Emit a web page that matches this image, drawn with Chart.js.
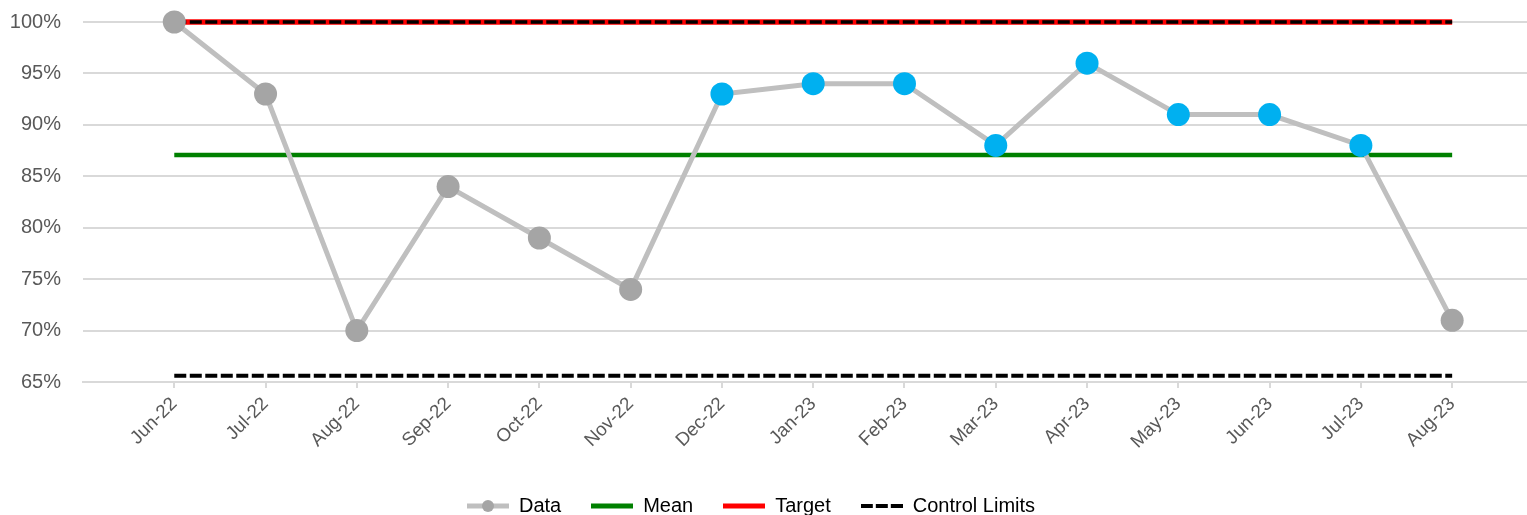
<!DOCTYPE html>
<html>
<head>
<meta charset="utf-8">
<script src="https://cdn.jsdelivr.net/npm/chart.js@4/dist/chart.umd.min.js"></script>
<style>
  html, body { margin: 0; padding: 0; background: #ffffff; }
  #wrap { width: 1527px; height: 515px; position: relative; }
</style>
</head>
<body>
<div id="wrap"><canvas id="chart"></canvas></div>
<script>
// Monthly percentages
const months = ['Jun-22', 'Jul-22', 'Aug-22', 'Sep-22', 'Oct-22', 'Nov-22', 'Dec-22', 'Jan-23',
                'Feb-23', 'Mar-23', 'Apr-23', 'May-23', 'Jun-23', 'Jul-23', 'Aug-23'];
const values = [100, 93, 70, 84, 79, 74, 93, 94, 94, 88, 96, 91, 91, 88, 71];
// Points flagged as a sustained shift above the mean
const shiftFlags = [false, false, false, false, false, false, true, true, true, true, true, true, true, true, false];

const meanValue = 87.07;
const targetValue = 100;
const upperLimit = 100;
const lowerLimit = 65.6;

const yTicks = [65, 70, 75, 80, 85, 90, 95, 100];

const GREY_LINE = '#BFBFBF';
const GREY_POINT = '#A5A5A5';
const BLUE_POINT = '#00B0F0';
const TEXT = '#595959';
const GRID = '#D9D9D9';
const FONT = 'Liberation Sans, Arial, sans-serif';

const PLOT_BOTTOM = 382;   // pixel row of the category axis
const LEGEND_MID = 508;    // pixel row used to place the legend row
const LEGEND_PAD = 30;
const LEGEND_FONT = 20;
const LEGEND_WIDTH = 1502;

const lastIdx = months.length - 1;
const flat = v => [{ x: 0, y: v }, { x: lastIdx, y: v }];

const dataPoints = values.map((v, i) => ({ x: i, y: v }));
const pointColors = shiftFlags.map(f => f ? BLUE_POINT : GREY_POINT);

// Legend swatches drawn on small canvases
const SW_W = 42, SW_H = 16;
function swatch(draw) {
  const c = document.createElement('canvas');
  c.width = SW_W; c.height = SW_H;
  const g = c.getContext('2d');
  draw(g);
  return c;
}
const swData = swatch(g => {
  g.strokeStyle = GREY_LINE; g.lineWidth = 5;
  g.beginPath(); g.moveTo(0, 8); g.lineTo(SW_W, 8); g.stroke();
  g.fillStyle = GREY_POINT; g.beginPath(); g.arc(SW_W / 2, 8, 6, 0, Math.PI * 2); g.fill();
});
const swSolid = col => swatch(g => {
  g.strokeStyle = col; g.lineWidth = 5;
  g.beginPath(); g.moveTo(0, 8); g.lineTo(SW_W, 8); g.stroke();
});
const swDash = swatch(g => {
  g.fillStyle = '#000000';
  [0, 15, 30].forEach(x => g.fillRect(x, 6, 12, 4));
});

const legendItems = [
  { text: 'Data', pointStyle: swData, datasetIndex: 0 },
  { text: 'Mean', pointStyle: swSolid('#008000'), datasetIndex: 1 },
  { text: 'Target', pointStyle: swSolid('#FF0000'), datasetIndex: 4 },
  { text: 'Control Limits', pointStyle: swDash, datasetIndex: 2 }
];

// Legend box: slightly narrower than the canvas, text row pinned near the bottom edge
const legendBox = {
  id: 'legendBox',
  afterLayout(chart) {
    const lg = chart.legend;
    if (!lg) return;
    lg.right = lg.left + LEGEND_WIDTH;
    lg.width = LEGEND_WIDTH;
    const lineH = LEGEND_FONT * 1.2;
    const h = lg.height;
    lg.top = LEGEND_MID - LEGEND_PAD - lineH / 2;
    lg.bottom = lg.top + h;
  }
};

new Chart(document.getElementById('chart'), {
  type: 'line',
  plugins: [legendBox],
  data: {
    datasets: [
      {
        label: 'Data', data: dataPoints, order: 0, clip: false,
        borderColor: GREY_LINE, borderWidth: 5,
        pointBackgroundColor: pointColors, pointBorderColor: pointColors,
        pointRadius: 11.5, pointHoverRadius: 11.5, pointBorderWidth: 0
      },
      {
        label: 'Mean', data: flat(meanValue), order: 1, clip: false,
        borderColor: '#008000', borderWidth: 4.5, pointRadius: 0
      },
      {
        label: 'Control Limits', data: flat(lowerLimit), order: 2, clip: false,
        borderColor: '#000000', borderWidth: 4, borderDash: [12, 3.5], pointRadius: 0
      },
      {
        label: 'Upper Control Limit', data: flat(upperLimit), order: 2, clip: false,
        borderColor: '#000000', borderWidth: 3.5, borderDash: [12, 3.5], pointRadius: 0
      },
      {
        label: 'Target', data: flat(targetValue), order: 3, clip: false,
        borderColor: '#FF0000', borderWidth: 5.5, pointRadius: 0
      }
    ]
  },
  options: {
    responsive: true,
    maintainAspectRatio: false,
    animation: false,
    layout: { autoPadding: false, padding: { top: 22, right: 0, left: 0, bottom: 0 } },
    scales: {
      x: {
        type: 'linear',
        min: -1,
        max: 14.82,
        afterBuildTicks: s => { s.ticks = months.map((_, i) => ({ value: i })); },
        afterFit: s => {
          const lgH = s.chart.legend ? s.chart.legend.height : 0;
          s.height = s.chart.height - PLOT_BOTTOM - lgH;
          s.paddingLeft = 0; s.paddingRight = 0;
        },
        grid: { drawOnChartArea: false, drawTicks: true, tickLength: 6, color: GRID, lineWidth: 2 },
        border: { display: true, color: GRID, width: 2 },
        ticks: {
          autoSkip: false, maxRotation: 45, minRotation: 45,
          color: TEXT, font: { family: FONT, size: 18.7 },
          padding: 5,
          callback: v => months[v] ?? ''
        }
      },
      y: {
        min: 65, max: 100,
        afterBuildTicks: s => { s.ticks = yTicks.map(v => ({ value: v })); },
        afterFit: s => { s.width = 83; s.paddingTop = 0; s.paddingBottom = 0; },
        grid: { color: GRID, lineWidth: 2, drawTicks: false },
        border: { display: false },
        ticks: {
          color: TEXT, font: { family: FONT, size: 20 },
          padding: 22,
          callback: v => v + '%'
        }
      }
    },
    plugins: {
      tooltip: { enabled: false },
      legend: {
        position: 'bottom',
        labels: {
          usePointStyle: true,
          pointStyleWidth: SW_W,
          boxHeight: SW_H,
          padding: LEGEND_PAD,
          color: '#000000',
          font: { family: FONT, size: LEGEND_FONT },
          generateLabels: () => legendItems.map(it => ({
            text: it.text, pointStyle: it.pointStyle, datasetIndex: it.datasetIndex,
            fontColor: '#000000', hidden: false, lineWidth: 0,
            strokeStyle: 'rgba(0,0,0,0)', fillStyle: 'rgba(0,0,0,0)'
          }))
        },
        onClick: () => {}
      }
    }
  }
});
</script>
</body>
</html>
